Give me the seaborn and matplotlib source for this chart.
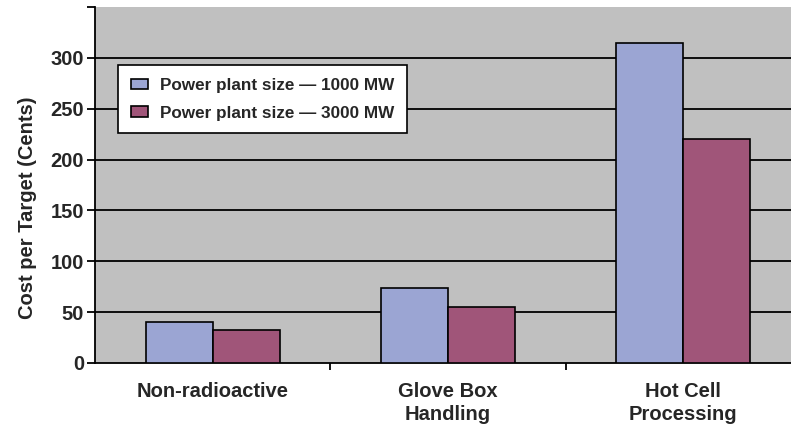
import matplotlib
matplotlib.use("Agg")
import matplotlib.pyplot as plt
import seaborn as sns
import pandas as pd
import numpy as np

categories = ["Non-radioactive", "Glove Box\nHandling", "Hot Cell\nProcessing"]
series_names = ["Power plant size \u2014 1000 MW", "Power plant size \u2014 3000 MW"]
values_1000 = [40, 74, 315]
values_3000 = [32, 55, 220]
colors = ["#9BA5D3", "#A05579"]
y_ticks = [0, 50, 100, 150, 200, 250, 300]

sns.set_theme(style="white")
plt.rcParams['font.family'] = ['Liberation Sans Narrow', 'Liberation Sans', 'DejaVu Sans']
plt.rcParams['font.weight'] = 'bold'

df = pd.DataFrame({
    "Category": categories * 2,
    "Series": [series_names[0]] * 3 + [series_names[1]] * 3,
    "Value": values_1000 + values_3000,
})

fig = plt.figure(figsize=(7.91, 4.30), dpi=100)
ax = fig.add_axes([95/791, 67/430, 706/791, 356/430])
ax.set_facecolor("#C0C0C0")

sns.barplot(data=df, x="Category", y="Value", hue="Series", palette=colors,
            width=0.57, edgecolor="black", linewidth=1.2, ax=ax, zorder=3,
            saturation=1)

for t in y_ticks[1:]:
    ax.axhline(t, color="black", linewidth=1.3, zorder=1)

ax.set_ylim(0, 350)
ax.set_xlim(-0.5, 2.5)
ax.set_yticks(y_ticks + [350])
ax.set_yticklabels([str(t) for t in y_ticks] + [""], fontsize=14.5, fontweight="bold")
ax.tick_params(axis="y", direction="out", length=6, width=1.3, color="black", left=True, pad=2)
ax.set_xticks([0, 1, 2])
ax.set_xticklabels(categories, fontsize=14.5, fontweight="bold", linespacing=1.25)
ax.tick_params(axis="x", length=0, pad=14)
ax.set_xticks([0.5, 1.5], minor=True)
ax.tick_params(axis="x", which="minor", direction="out", length=5, width=1.3, color="black", bottom=True)

ax.set_xlabel("")
ax.set_ylabel("Cost per Target (Cents)", fontsize=14.5, fontweight="bold")
ax.yaxis.set_label_coords((37 - 95) / 706, (363 - 208) / 356)

for s in ["top", "right"]:
    ax.spines[s].set_visible(False)
for s in ["left", "bottom"]:
    ax.spines[s].set_visible(True)
    ax.spines[s].set_color("black")
    ax.spines[s].set_linewidth(1.3)

leg = ax.legend(loc="upper left", bbox_to_anchor=((118-95)/706, (365-67)/356),
                frameon=True, fancybox=False, framealpha=1, edgecolor="black",
                prop={"size": 12.3, "weight": "bold"}, handlelength=1.0, handleheight=0.55,
                borderpad=0.75, labelspacing=0.75, handletextpad=0.7, borderaxespad=0)
leg.get_frame().set_linewidth(1.2)
leg.set_zorder(5)

fig.savefig("out.png", dpi=100)
